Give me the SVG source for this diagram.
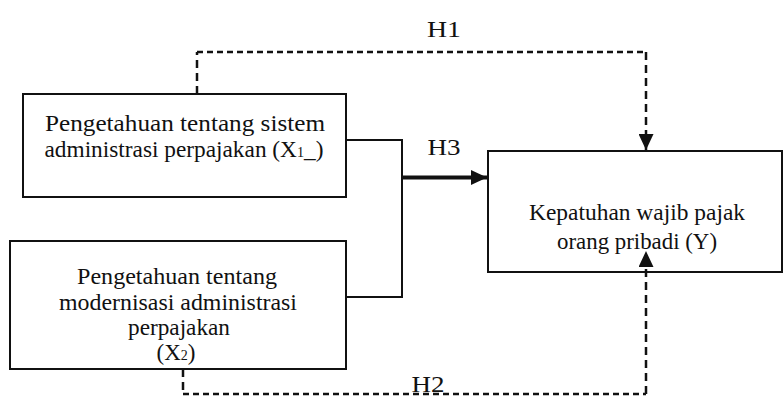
<svg xmlns="http://www.w3.org/2000/svg" width="784" height="397" viewBox="0 0 784 397">
  <style>
    .box{fill:#fff;stroke:#111;stroke-width:2}
    .t{font-family:"Liberation Serif","Times New Roman",serif;font-size:23px;fill:#111;text-anchor:middle}
    .sub{font-size:14px}
    .solid{stroke:#111;stroke-width:2;fill:none}
    .thick{stroke:#111;stroke-width:4;fill:none}
    .dh{stroke:#111;stroke-width:2.5;stroke-dasharray:6 4;fill:none}
    .dv{stroke:#111;stroke-width:2.5;stroke-dasharray:8 5;fill:none}
  </style>
  <defs>
    <marker id="ah" markerUnits="userSpaceOnUse" markerWidth="17" markerHeight="15" refX="16" refY="7.5" orient="auto">
      <path d="M0,0 L16,7.5 L0,15 Z" fill="#111"/>
    </marker>
  </defs>
  <rect width="784" height="397" fill="#fff"/>

  <g id="X1">
    <rect class="box" x="23" y="94" width="323" height="103"/>
    <text class="t" x="185" y="131" textLength="280" lengthAdjust="spacingAndGlyphs">Pengetahuan tentang sistem</text>
    <text class="t" x="184" y="157" textLength="279" lengthAdjust="spacingAndGlyphs">administrasi perpajakan (X<tspan class="sub">1</tspan>_)</text>
  </g>

  <g id="X2">
    <rect class="box" x="10" y="241" width="336" height="128"/>
    <text class="t" x="177" y="284" textLength="200" lengthAdjust="spacingAndGlyphs">Pengetahuan tentang</text>
    <text class="t" x="178" y="310" textLength="238" lengthAdjust="spacingAndGlyphs">modernisasi administrasi</text>
    <text class="t" x="179" y="335" textLength="102" lengthAdjust="spacingAndGlyphs">perpajakan</text>
    <text class="t" x="176" y="360">(X<tspan class="sub">2</tspan>)</text>
  </g>

  <g id="Y">
    <rect class="box" x="488" y="151" width="294" height="121"/>
    <text class="t" x="637" y="220" textLength="216" lengthAdjust="spacingAndGlyphs">Kepatuhan wajib pajak</text>
    <text class="t" x="637" y="249" textLength="160" lengthAdjust="spacingAndGlyphs">orang pribadi (Y)</text>
  </g>

  <g id="connectors">
    <path class="solid" d="M346,140 H402 V297 H346"/>
    <path class="thick" d="M402,177.5 H487" marker-end="url(#ah)"/>
    <path class="dv" d="M197,94 V52"/>
    <path class="dh" d="M197,52 H646"/>
    <path class="dv" d="M646,52 V150" marker-end="url(#ah)"/>
    <path class="dv" d="M183,369 V394"/>
    <path class="dh" d="M183,394 H646"/>
    <path class="dv" d="M646,394 V251" marker-end="url(#ah)"/>
  </g>

  <g id="labels">
    <text class="t" x="444" y="37" textLength="34" lengthAdjust="spacingAndGlyphs">H1</text>
    <text class="t" x="444" y="155" textLength="33" lengthAdjust="spacingAndGlyphs">H3</text>
    <text class="t" x="428" y="392" textLength="33" lengthAdjust="spacingAndGlyphs">H2</text>
  </g>
</svg>
